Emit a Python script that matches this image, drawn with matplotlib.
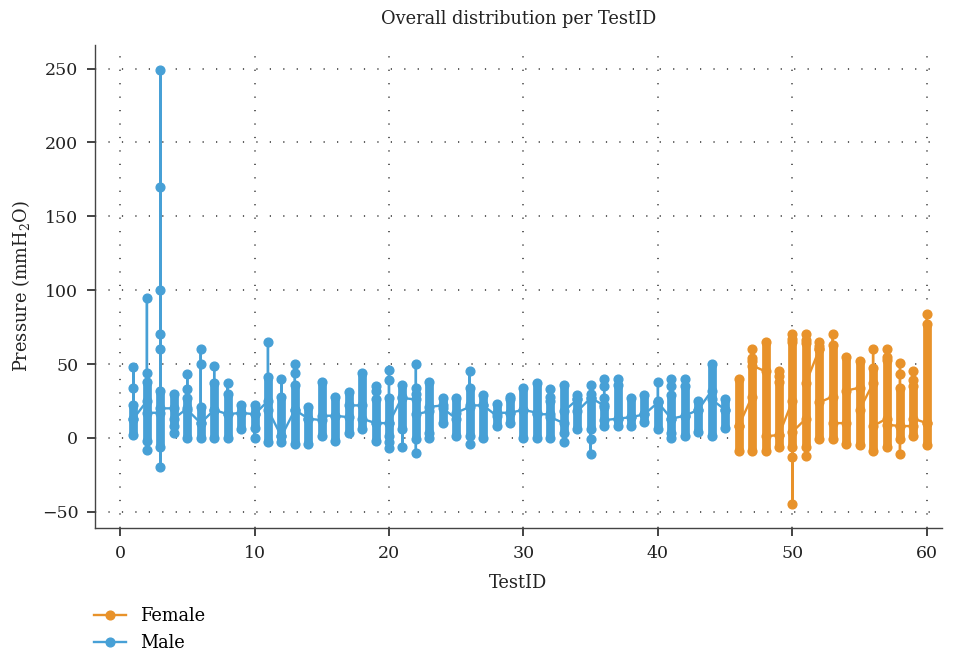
import matplotlib.pyplot as plt

# TestIDs per group
male_ids = list(range(1, 46))
female_ids = list(range(46, 61))

# dense part of each test (bottom / top of the solid column)
male_lo = [2, -2, -6, 8, 0, 0, 0, 0, 6, 7, -3, -3, -4, -4, 1, -2, 3, 6, -2, 1,
           6, -1, 3, 10, 1, 1, 0, 8, 10, 0, 0, 0, 3, 6, 6, 8, 8, 8, 11, 6,
           3, 1, 4, 1, 7]
male_hi = [22, 38, 32, 30, 27, 21, 37, 30, 22, 22, 41, 28, 36, 21, 38, 28, 31, 44, 26, 27,
           36, 30, 38, 27, 27, 34, 29, 23, 26, 34, 37, 25, 36, 26, 30, 21, 36, 27, 29, 25,
           29, 35, 25, 50, 26]
# first / last reading of each test (where the connecting line enters and leaves)
male_first = [13, 25, 17, 20, 20, 10, 19, 16, 17, 16, 25, 1, 19, 13, 12, 15, 14, 22, 10, 10,
              28, 26, 18, 22, 13, 21, 22, 15, 17, 19, 17, 16, 10, 26, 27, 22, 13, 14, 16, 24,
              13, 15, 19, 32, 19]
male_last = [13, 17, 20, 13, 19, 10, 19, 16, 17, 16, 19, 1, 19, 13, 15, 15, 22, 13, 10, 10,
             27, 16, 21, 20, 17, 22, 22, 17, 17, 19, 16, 14, 18, 18, 27, 12, 13, 14, 16, 24,
             13, 15, 19, 26, 19]
# isolated readings outside the dense column
male_extra = [[34, 48], [44, 95, -8], [249, 170, 100, 70, 60, -20], [3], [43, 33],
              [60, 50], [49], [37], [], [0],
              [65], [40], [50, 44], [], [],
              [], [], [], [35, 32], [46, 39, -3, -7],
              [-6], [50, 34, -10], [0], [], [],
              [45, -4], [], [], [28], [],
              [], [33, 28], [-3], [29], [36, -1, -11],
              [40, 35, 27], [40], [], [], [38],
              [40, 35, 0], [40], [], [], []]

female_lo = [-9, -9, -9, -6, -6, -6, -1, -1, -4, -5, -9, -6, -1, 1, -5]
female_hi = [40, 52, 65, 38, 65, 64, 60, 63, 55, 52, 47, 53, 34, 35, 77]
female_first = [8, 28, 45, 2, 25, 13, 60, 28, 10, 34, 37, 13, 8, 8, 10]
female_last = [8, 49, 1, 2, 4, 37, 24, 10, 32, 19, 8, 9, 8, 13, 10]
female_extra = [[], [60, 54], [], [45, 42], [70, 67, -13, -45],
                [70, 66, -12], [65, 62], [70], [], [],
                [60], [60, 55], [51, 43, -11], [45, 39], [84]]

plt.rcParams['font.family'] = 'DejaVu Serif'
plt.rcParams['mathtext.fontset'] = 'dejavuserif'

fig, ax = plt.subplots(figsize=(9.56, 6.58), dpi=100)
fig.subplots_adjust(left=0.0994, right=0.985, bottom=0.1976, top=0.9316)


def draw(ids, lo, hi, first, last, extra, color, label):
    xs, ys = [], []
    for i, t in enumerate(ids):
        seq = [first[i], lo[i], hi[i]] + extra[i] + [last[i]]
        xs += [t] * len(seq)
        ys += seq
    ax.vlines(ids, lo, hi, color=color, lw=6.3, capstyle='round', zorder=3)
    ax.plot(xs, ys, color=color, lw=1.7, marker='o', ms=6.3, label=label, zorder=3)


draw(female_ids, female_lo, female_hi, female_first, female_last, female_extra,
     '#e8922a', 'Female')
draw(male_ids, male_lo, male_hi, male_first, male_last, male_extra,
     '#47a0d6', 'Male')

ax.set_xlim(-1.86, 61.1)
ax.set_ylim(-61, 266)
ax.set_xticks(range(0, 61, 10))
ax.set_yticks(range(-50, 251, 50))
ax.grid(True, linestyle=(0, (0.8, 8)), lw=1.1, color='#333333')
ax.set_axisbelow(True)
for s in ['top', 'right']:
    ax.spines[s].set_visible(False)
for s in ['left', 'bottom']:
    ax.spines[s].set_color('#444444')
    ax.spines[s].set_linewidth(1.0)
ax.tick_params(direction='out', length=6, width=1.2, pad=6, labelsize=12.5, colors='#222222')

ax.set_title('Overall distribution per TestID', fontsize=12.8, pad=15, color='#222222')
ax.set_xlabel('TestID', fontsize=12.8, color='#222222', labelpad=9)
ax.set_ylabel('Pressure (mmH$_2$O)', fontsize=12.8, color='#222222', labelpad=7)

fig.legend(loc='lower left', bbox_to_anchor=(0.085, -0.01), frameon=False,
           fontsize=12.8, handlelength=1.8, labelspacing=0.5, borderpad=0.2)

fig.savefig('out.png', dpi=100)
